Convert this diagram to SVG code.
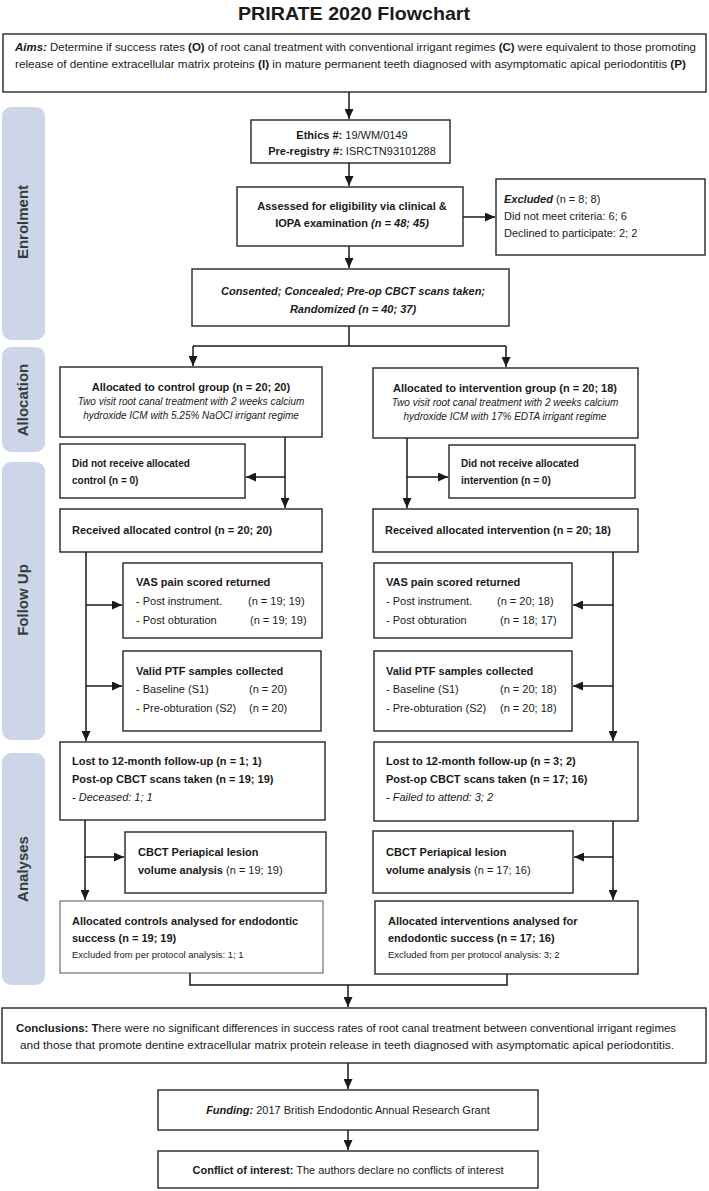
<svg xmlns="http://www.w3.org/2000/svg" width="709" height="1191" viewBox="0 0 709 1191">
<defs>
<style>
text{font-family:"Liberation Sans",Arial,sans-serif;font-size:11px;fill:#1a1a1a}
.b{font-weight:bold}
.i{font-style:italic}
.s{font-size:10px}
.xs{font-size:9.5px}
.c{text-anchor:middle}
.box{fill:#fff;stroke:#262626;stroke-width:1.4}
.box2{fill:#fff;stroke:#555;stroke-width:1}
.bar{fill:#cdd6e8}
.bartxt{font-size:15px;font-weight:bold;fill:#3a3a3a;text-anchor:middle}
.ln{fill:none;stroke:#1a1a1a;stroke-width:1.5}
.ar{fill:none;stroke:#1a1a1a;stroke-width:1.5;marker-end:url(#ah)}
</style>
<marker id="ah" markerUnits="userSpaceOnUse" markerWidth="10" markerHeight="9" refX="10" refY="4.5" orient="auto">
<path d="M0,0 L10,4.5 L0,9 z" fill="#1a1a1a"/>
</marker>
</defs>
<rect width="709" height="1191" fill="#fff"/>

<text x="354" y="20" class="b c" style="font-size:19px" textLength="232" lengthAdjust="spacingAndGlyphs">PRIRATE 2020 Flowchart</text>

<g id="bars">
<rect class="bar" x="2" y="107" width="43" height="233" rx="9"/>
<text class="bartxt" transform="translate(28,222) rotate(-90)">Enrolment</text>
<rect class="bar" x="2" y="347" width="43" height="105" rx="9"/>
<text class="bartxt" transform="translate(28,400) rotate(-90)">Allocation</text>
<rect class="bar" x="2" y="462" width="43" height="278" rx="9"/>
<text class="bartxt" transform="translate(28,600) rotate(-90)">Follow Up</text>
<rect class="bar" x="2" y="753" width="43" height="232" rx="9"/>
<text class="bartxt" transform="translate(28,869) rotate(-90)">Analyses</text>
</g>

<g id="aims">
<rect class="box" x="3" y="34" width="703" height="58"/>
<text x="15" y="51" textLength="681" lengthAdjust="spacingAndGlyphs"><tspan class="b i">Aims:</tspan> Determine if success rates <tspan class="b">(O)</tspan> of root canal treatment with conventional irrigant regimes <tspan class="b">(C)</tspan> were equivalent to those promoting</text>
<text x="15" y="68" textLength="671" lengthAdjust="spacingAndGlyphs">release of dentine extracellular matrix proteins <tspan class="b">(I)</tspan> in mature permanent teeth diagnosed with asymptomatic apical periodontitis <tspan class="b">(P)</tspan></text>
</g>

<g id="ethics">
<rect class="box" x="251" y="120" width="199" height="43"/>
<text x="352" y="139" class="c"><tspan class="b">Ethics #:</tspan>  19/WM/0149</text>
<text x="352" y="155" class="c"><tspan class="b">Pre-registry #:</tspan> ISRCTN93101288</text>
</g>

<g id="assessed">
<rect class="box" x="237" y="187" width="226" height="59"/>
<text x="352" y="210" class="c b">Assessed for eligibility via clinical &amp;</text>
<text x="352" y="227" class="c b">IOPA examination <tspan class="i">(n = 48; 45)</tspan></text>
</g>

<g id="excluded">
<rect class="box" x="496" y="179" width="209" height="76"/>
<text x="504" y="203"><tspan class="b i">Excluded</tspan> (n = 8; 8)</text>
<text x="504" y="220">Did not meet criteria: 6; 6</text>
<text x="504" y="237">Declined to participate: 2; 2</text>
</g>

<g id="consented">
<rect class="box" x="192" y="269" width="317" height="57"/>
<text x="353" y="295" class="c b i">Consented; Concealed; Pre-op CBCT scans taken;</text>
<text x="353" y="313" class="c b i">Randomized (n = 40; 37)</text>
</g>

<g id="alloc-control">
<rect class="box" x="60" y="367" width="262" height="70"/>
<text x="191" y="391" class="c b">Allocated to control group (n = 20; 20)</text>
<text x="191" y="405" class="c i s">Two visit root canal treatment with 2 weeks calcium</text>
<text x="191" y="419" class="c i s">hydroxide ICM with 5.25% NaOCl irrigant regime</text>
</g>

<g id="alloc-intervention">
<rect class="box" x="373" y="368" width="265" height="70"/>
<text x="505" y="392" class="c b">Allocated to intervention group (n = 20; 18)</text>
<text x="505" y="406" class="c i s">Two visit root canal treatment with 2 weeks calcium</text>
<text x="505" y="420" class="c i s">hydroxide ICM with 17% EDTA irrigant regime</text>
</g>

<g id="notrecv-control">
<rect class="box" x="60" y="444" width="185" height="54"/>
<text x="72" y="467" class="b s">Did not receive allocated</text>
<text x="72" y="484" class="b s">control (n = 0)</text>
</g>

<g id="notrecv-intervention">
<rect class="box" x="449" y="445" width="186" height="53"/>
<text x="461" y="467" class="b s">Did not receive allocated</text>
<text x="461" y="484" class="b s">intervention (n = 0)</text>
</g>

<g id="recv-control">
<rect class="box" x="60" y="509" width="262" height="43"/>
<text x="72" y="534" class="b">Received allocated control (n = 20; 20)</text>
</g>

<g id="recv-intervention">
<rect class="box" x="373" y="509" width="265" height="43"/>
<text x="385" y="534" class="b">Received allocated intervention (n = 20; 18)</text>
</g>

<g id="vas-control">
<rect class="box" x="123" y="563" width="199" height="75"/>
<text x="136" y="586" class="b">VAS pain scored returned</text>
<text x="136" y="605">- Post instrument.</text><text x="248" y="605">(n = 19; 19)</text>
<text x="136" y="624">- Post obturation</text><text x="250" y="624">(n = 19; 19)</text>
</g>

<g id="vas-intervention">
<rect class="box" x="374" y="563" width="198" height="75"/>
<text x="386" y="586" class="b">VAS pain scored returned</text>
<text x="386" y="605">- Post instrument.</text><text x="497" y="605">(n = 20; 18)</text>
<text x="386" y="624">- Post obturation</text><text x="500" y="624">(n = 18; 17)</text>
</g>

<g id="ptf-control">
<rect class="box" x="123" y="651" width="198" height="80"/>
<text x="136" y="675" class="b">Valid PTF samples collected</text>
<text x="136" y="693">- Baseline (S1)</text><text x="249" y="693">(n = 20)</text>
<text x="136" y="712">- Pre-obturation (S2)</text><text x="249" y="712">(n = 20)</text>
</g>

<g id="ptf-intervention">
<rect class="box" x="374" y="651" width="198" height="80"/>
<text x="386" y="675" class="b">Valid PTF samples collected</text>
<text x="386" y="693">- Baseline (S1)</text><text x="500" y="693">(n = 20; 18)</text>
<text x="386" y="712">- Pre-obturation (S2)</text><text x="500" y="712">(n = 20; 18)</text>
</g>

<g id="lost-control">
<rect class="box" x="60" y="742" width="265" height="78"/>
<text x="72" y="765" class="b">Lost to 12-month follow-up (n = 1; 1)</text>
<text x="72" y="783" class="b">Post-op CBCT scans taken (n = 19; 19)</text>
<text x="72" y="801" class="i">- Deceased: 1; 1</text>
</g>

<g id="lost-intervention">
<rect class="box" x="374" y="742" width="264" height="79"/>
<text x="386" y="765" class="b">Lost to 12-month follow-up (n = 3; 2)</text>
<text x="386" y="783" class="b">Post-op CBCT scans taken (n = 17; 16)</text>
<text x="386" y="801" class="i">- Failed to attend: 3; 2</text>
</g>

<g id="cbct-control">
<rect class="box" x="125" y="832" width="201" height="61"/>
<text x="138" y="856" class="b">CBCT Periapical lesion</text>
<text x="138" y="874"><tspan class="b">volume analysis</tspan> (n = 19; 19)</text>
</g>

<g id="cbct-intervention">
<rect class="box" x="373" y="831" width="200" height="62"/>
<text x="386" y="856" class="b">CBCT Periapical lesion</text>
<text x="386" y="874"><tspan class="b">volume analysis</tspan> (n = 17; 16)</text>
</g>

<g id="analysed-control">
<rect class="box2" x="60" y="901" width="263" height="72"/>
<text x="72" y="925" class="b">Allocated controls analysed for endodontic</text>
<text x="72" y="942" class="b">success (n = 19; 19)</text>
<text x="72" y="958" class="xs">Excluded from per protocol analysis: 1; 1</text>
</g>

<g id="analysed-intervention">
<rect class="box" x="375" y="901" width="263" height="73"/>
<text x="388" y="925" class="b">Allocated interventions analysed for</text>
<text x="388" y="942" class="b">endodontic success (n = 17; 16)</text>
<text x="388" y="958" class="xs">Excluded from per protocol analysis: 3; 2</text>
</g>

<g id="conclusions">
<rect class="box" x="2" y="1008" width="704" height="55"/>
<text x="346" y="1032" class="c" textLength="660" lengthAdjust="spacingAndGlyphs"><tspan class="b">Conclusions: T</tspan>here were no significant differences in success rates of root canal treatment between conventional irrigant regimes</text>
<text x="347" y="1049" class="c" textLength="654" lengthAdjust="spacingAndGlyphs">and those that promote dentine extracellular matrix protein release in teeth diagnosed with asymptomatic apical periodontitis.</text>
</g>

<g id="funding">
<rect class="box" x="158" y="1090" width="380" height="40"/>
<text x="348" y="1114" class="c"><tspan class="b i">Funding:</tspan>  2017 British Endodontic Annual Research Grant</text>
</g>

<g id="conflict">
<rect class="box" x="158" y="1151" width="380" height="37"/>
<text x="348" y="1174" class="c"><tspan class="b">Conflict of interest:</tspan> The authors declare no conflicts of interest</text>
</g>

<g id="connectors">
<path class="ar" d="M349,92 V119"/>
<path class="ar" d="M349,163 V186"/>
<path class="ar" d="M463,217 H495"/>
<path class="ar" d="M349,246 V268"/>
<path class="ln" d="M349,326 V346 M193,346 H506"/>
<path class="ar" d="M193,346 V366"/>
<path class="ar" d="M506,346 V367"/>
<path class="ar" d="M285,437 V508"/>
<path class="ar" d="M285,477 H246"/>
<path class="ar" d="M407,438 V508"/>
<path class="ar" d="M407,477 H448"/>
<path class="ar" d="M86,552 V741"/>
<path class="ar" d="M86,605 H122"/>
<path class="ar" d="M86,686 H122"/>
<path class="ar" d="M613,552 V741"/>
<path class="ar" d="M613,605 H573"/>
<path class="ar" d="M613,686 H573"/>
<path class="ar" d="M85,820 V900"/>
<path class="ar" d="M85,857 H124"/>
<path class="ar" d="M613,821 V900"/>
<path class="ar" d="M613,857 H574"/>
<path class="ln" d="M190,973 V985 H507 V974"/>
<path class="ar" d="M348,985 V1007"/>
<path class="ar" d="M348,1063 V1089"/>
<path class="ar" d="M348,1130 V1150"/>
</g>
</svg>
